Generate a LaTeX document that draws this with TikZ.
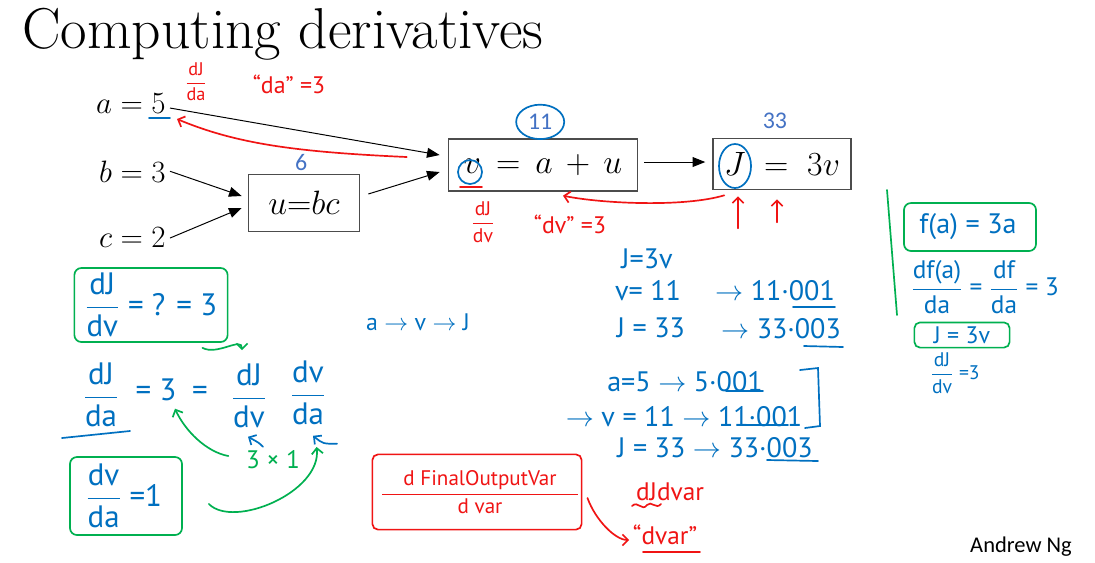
\documentclass[tikz,border=0pt]{standalone}
\usepackage{fix-cm}
\usepackage{amsmath}
\usepackage{fontspec}
\newfontfamily\hand{PT Sans}
\newfontfamily\carlito{Carlito}
\usepackage{tikz}
\usetikzlibrary{arrows.meta,positioning}
\definecolor{penblue}{RGB}{0,112,192}
\definecolor{penred}{RGB}{240,20,20}
\definecolor{pengreen}{RGB}{0,176,80}
\definecolor{slideblue}{RGB}{68,114,196}
\newcommand{\hfr}[2]{$\dfrac{\text{#1}}{\text{#2}}$}

\begin{document}
\begin{tikzpicture}[
    x=0.025cm, y=-0.025cm,
    calc box/.style={draw=black!70, line width=1pt, font=\fontsize{24}{28}\selectfont},
    init/.style={inner sep=0pt, font=\fontsize{22}{26}\selectfont},
    val/.style={text=slideblue, inner sep=1pt, font=\carlito\fontsize{17}{20}\selectfont},
    fwd/.style={-{Triangle[length=9pt,width=7pt]}, line width=0.7pt},
    bpen/.style={text=penblue, inner sep=1pt, font=\hand\fontsize{#1}{#1}\selectfont},
    bpen/.default=20,
    rpen/.style={text=penred, inner sep=1pt, font=\hand\fontsize{#1}{#1}\selectfont},
    rpen/.default=16,
    bline/.style={draw=penblue, line width=1.2pt, line cap=round},
    rline/.style={draw=penred, line width=1.2pt, line cap=round},
    gline/.style={draw=pengreen, line width=1.2pt, line cap=round},
    handtip/.style={-{Straight Barb[length=4pt,width=8pt]}},
    gbox/.style={draw=pengreen, line width=1.2pt, rounded corners=5pt},
    rbox/.style={draw=penred, line width=1.2pt, rounded corners=4pt}
]
\fill[white] (0,0) rectangle (1095,562);
\useasboundingbox (0,0) rectangle (1095,562);

\node[anchor=base west, inner sep=0pt, font=\fontsize{41}{44}\selectfont] (title) at (22,48) {Computing derivatives};

\node[init, anchor=base east] (seta) at (166,113) {$a = 5$};
\node[init, anchor=base east] (setb) at (166,182) {$b = 3$};
\node[init, anchor=base east] (setc) at (166,247) {$c = 2$};

\node[calc box, minimum width=2.78cm, minimum height=1.43cm] (ubox) at (304,203) {$u{=}bc$};
\node[calc box, minimum width=4.73cm, minimum height=1.3cm] (vbox) at (543,165) {$v \,=\, a \,+\, u$\hspace{14pt}};
\node[calc box, minimum width=3.45cm, minimum height=1.28cm] (jbox) at (782,164) {$J \;=\; 3v$};

\node[val, above=1pt of ubox, xshift=-2pt] (uval) {6};
\node[val, above=5pt of vbox, xshift=-2pt] (vval) {11};
\node[val, above=5pt of jbox, xshift=-5pt] (jval) {33};

\draw[fwd] ([shift={(4,5)}]seta.east) -- ([shift={(-8,-10)}]vbox.west);
\draw[fwd] ([shift={(4,0)}]setb.east) -- ([shift={(-6,-7)}]ubox.west);
\draw[fwd] ([shift={(4,1)}]setc.east) -- ([shift={(-6,5)}]ubox.west);
\draw[fwd] ([shift={(8,-9)}]ubox.east) -- ([shift={(-8,7)}]vbox.west);
\draw[fwd] ([shift={(6,-3)}]vbox.east) -- ([shift={(-7,-2)}]jbox.west);

\draw[bline] (149,118) -- (170,118);
\draw[bline] (vval) ellipse [x radius=0.6cm, y radius=0.43cm];
\draw[bline] (470,172) circle [radius=0.3cm];
\draw[bline] (735,166) ellipse [x radius=0.4cm, y radius=0.55cm];
\draw[rline] (460,187) -- (482,187);

\node[rpen=13] (rdjda) at (196,82) {\hfr{dJ}{da}};
\node[rpen=17] (rda) at (289,84) {“da” =3};
\draw[rline, handtip] ([shift={(-41,-8)}]vbox.west) .. controls +(-110,-5) and +(60,25) .. ([shift={(11,16)}]seta.east);

\draw[rline, handtip] ([shift={(12,5)}]jbox.south west) .. controls +(-40,12) and +(40,8) .. ([shift={(20,4)}]vbox.south);
\draw[rline, handtip] ([shift={(-44,38)}]jbox.south) -- ([shift={(-44,6)}]jbox.south);
\draw[rline, handtip] ([shift={(-5,32)}]jbox.south) -- ([shift={(-5,9)}]jbox.south);
\node[rpen=14] (rdjdv) at (483,222) {\hfr{dJ}{dv}};
\node[rpen=17] (rdv) at (570,224) {“dv” =3};

\node[gbox, minimum width=3.83cm, minimum height=1.85cm] (chkv) at (151,305) {};
\node[bpen=22] (chkvtxt) at (151,305) {\hfr{dJ}{dv} = ? = 3};
\node[bpen=22] (fracJa) at (101,395) {\hfr{dJ}{da}};
\node[bpen=22] (three) at (156,390) {= 3};
\node[bpen=22] (eqmid) at (200,393) {=};
\node[bpen=22] (fracJv) at (249,396) {\hfr{dJ}{dv}};
\node[bpen=22] (fracva) at (308,393) {\hfr{dv}{da}};
\draw[bline] (62,438) -- (130,431);
\draw[gline, handtip] ([shift={(-26,5)}]chkv.south east) .. controls +(15,8) and +(0,-14) .. ([shift={(-7,-12)}]fracJv.north);
\draw[bline, handtip] ([shift={(14,17)}]fracJv.south) .. controls +(-4,-4) .. ([shift={(-1,7)}]fracJv.south);
\draw[bline, handtip] ([shift={(29,17)}]fracva.south) .. controls +(-14,0) .. ([shift={(5,9)}]fracva.south);
\node[text=pengreen, inner sep=1pt, font=\hand\fontsize{18}{18}\selectfont] (prod) at (273,460) {3 × 1};
\node[gbox, minimum width=2.8cm, minimum height=1.95cm] (chka) at (126,496) {};
\node[bpen=22] (chkatxt) at (124,496) {\hfr{dv}{da} =1};
\draw[gline, handtip] ([shift={(-16,-4)}]prod.west) .. controls +(-22,-4) and +(10,22) .. ([shift={(19,6)}]three.south);
\draw[gline, handtip] ([shift={(26,8)}]chka.east) .. controls +(25,25) and +(5,45) .. ([shift={(15,-13)}]prod.east);

\node[bpen=17] (chain) at (418,322) {a $\rightarrow$ v $\rightarrow$ J};

\node[bpen] (jdef) at (647,259) {J=3v};
\node[bpen] (vnow) at (648,291) {v= 11};
\node[bpen] (vnew) at (775,291) {$\rightarrow$ 11·001};
\node[bpen] (jnow) at (651,328) {J = 33};
\node[bpen] (jnew) at (781,329) {$\rightarrow$ 33·003};
\draw[bline] (793,307) -- (835,307);
\draw[bline] (804,346) -- (843,347);
\node[bpen] (anudge) at (685,382) {a=5 $\rightarrow$ 5·001};
\node[bpen] (vnudge) at (684,417) {$\rightarrow$ v = 11 $\rightarrow$ 11·001};
\node[bpen] (jnudge) at (715,448) {J = 33 $\rightarrow$ 33·003};
\draw[bline] (726,391) -- (763,391);
\draw[bline] (742,425) -- (788,425);
\draw[bline] (767,460) -- (818,461);
\draw[bline] (800,370) -- (818,368) -- (820,426) -- (805,428);

\node[rbox, minimum width=5.23cm, minimum height=1.88cm] (fovbox) at (477,492) {};
\node[rpen=15] (fovtxt) at (480,492) {\hfr{\quad d FinalOutputVar\quad}{d var}};
\node[rpen=18] (djdvar) at (670,492) {dJdvar};
\node[rpen=18] (dvarq) at (665,535) {“dvar”};
\draw[rline] (632,506) .. controls (638,500) and (642,512) .. (647,505) .. controls (651,500) and (656,510) .. (661,504);
\draw[rline] (643,552) -- (700,552);
\draw[rline, handtip] ([shift={(5,6)}]fovbox.east) .. controls +(8,22) and +(-14,0) .. ([shift={(-2,5)}]dvarq.west);

\draw[gline] (887,190) -- (897,315);
\node[gbox, minimum width=3.3cm, minimum height=1.2cm] (fofa) at (970,227) {};
\node[bpen] (fofatxt) at (968,227) {f(a) = 3a};
\node[bpen=18] (dfda) at (985,287) {\hfr{df(a)}{da} = \hfr{df}{da} = 3};
\node[gbox, minimum width=2.38cm, minimum height=0.63cm, rounded corners=4pt] (jrule) at (962,335) {};
\node[bpen=17] (jruletxt) at (962,335) {J = 3v};
\node[bpen=14] (djdv) at (955,373) {\hfr{dJ}{dv} =3};

\node[inner sep=0pt, font=\carlito\fontsize{16}{18}\selectfont] (credit) at (1021,547) {Andrew Ng};
\end{tikzpicture}
\end{document}
